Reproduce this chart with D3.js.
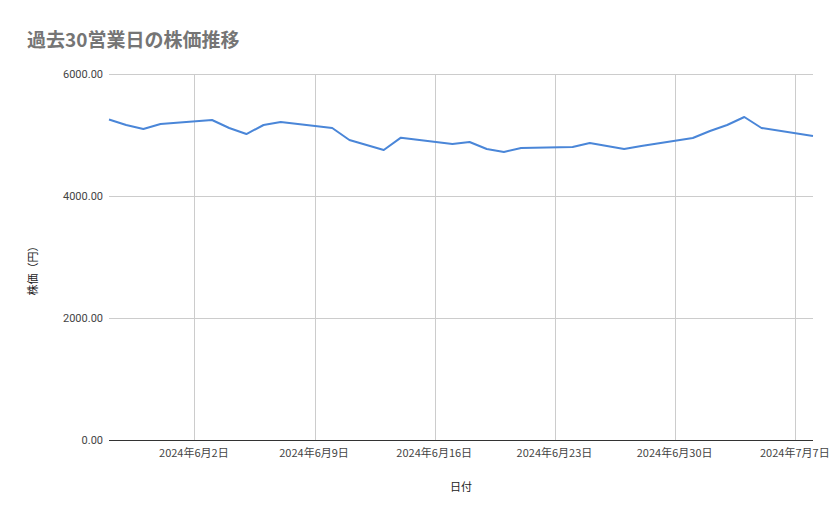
<!DOCTYPE html>
<html><head><meta charset="utf-8">
<script src="https://cdn.jsdelivr.net/npm/d3@7"></script>
<style>body{margin:0;background:#fff}svg{font-family:"Noto Sans CJK JP","Roboto",sans-serif}</style>
</head><body><svg id="c" width="839" height="519"></svg>
<script>
const dates = ["2024-05-28","2024-05-29","2024-05-30","2024-05-31",
"2024-06-03","2024-06-04","2024-06-05","2024-06-06","2024-06-07",
"2024-06-10","2024-06-11","2024-06-12","2024-06-13","2024-06-14",
"2024-06-17","2024-06-18","2024-06-19","2024-06-20","2024-06-21",
"2024-06-24","2024-06-25","2024-06-26","2024-06-27","2024-06-28",
"2024-07-01","2024-07-02","2024-07-03","2024-07-04","2024-07-05","2024-07-08"];
const prices = [5254,5164,5098,5180,5246,5115,5016,5164,5213,5115,4918,4836,4754,4956,
4852,4885,4770,4721,4787,4803,4869,4820,4770,4820,4951,5066,5164,5295,5115,4984];
const xTicks = ["2024-06-02","2024-06-09","2024-06-16","2024-06-23","2024-06-30","2024-07-07"];
const yTicks = [0,2000,4000,6000];

const p = d3.timeParse("%Y-%m-%d");
const svg = d3.select("#c");
const x = d3.scaleTime().domain([p("2024-05-28"), p("2024-07-08")]).range([109,813]);
const y = d3.scaleLinear().domain([0,6000]).range([440,74]);

svg.append("text").attr("x",27).attr("y",47).attr("fill","#757575").attr("font-size",19).attr("font-weight","bold").text("過去30営業日の株価推移");

svg.append("g").selectAll("line").data(yTicks).join("line")
 .attr("x1",109).attr("x2",813).attr("y1",d=>y(d)).attr("y2",d=>y(d))
 .attr("stroke",d=>d===0?"#333":"#ccc").attr("stroke-width",1).attr("shape-rendering","crispEdges");
svg.append("g").selectAll("line").data(xTicks).join("line")
 .attr("x1",d=>x(p(d))).attr("x2",d=>x(p(d))).attr("y1",74).attr("y2",440)
 .attr("stroke","#ccc").attr("shape-rendering","crispEdges");
svg.append("g").selectAll("text").data(yTicks).join("text")
 .attr("x",103).attr("y",d=>y(d)+4).attr("text-anchor","end").attr("font-size",11).attr("fill","#444")
 .attr("font-family","Roboto").text(d=>d3.format(".2f")(d));
svg.append("g").selectAll("text").data(xTicks).join("text")
 .attr("x",d=>x(p(d))-1).attr("y",457).attr("text-anchor","middle").attr("font-size",11).attr("fill","#444")
 .text(d=>{const t=p(d);return `${t.getFullYear()}年${t.getMonth()+1}月${t.getDate()}日`;});
svg.append("text").attr("x",461).attr("y",491).attr("text-anchor","middle").attr("font-size",11).attr("fill","#222").text("日付");
svg.append("text").attr("transform","translate(37,268) rotate(-90)").attr("text-anchor","middle").attr("font-size",11).attr("fill","#222").text("株価（円）");

const data = dates.map((d,i)=>({d:p(d),v:prices[i]}));
svg.append("path").datum(data).attr("fill","none").attr("stroke","#4a86d8").attr("stroke-width",2)
 .attr("stroke-linejoin","round")
 .attr("d",d3.line().x(d=>x(d.d)).y(d=>y(d.v)));
</script></body></html>
